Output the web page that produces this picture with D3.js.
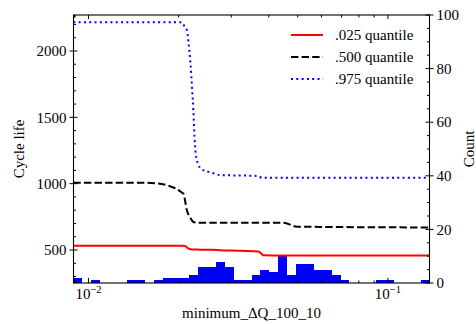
<!DOCTYPE html>
<html><head><meta charset="utf-8">
<script src="https://cdn.jsdelivr.net/npm/d3@7"></script>
<style>body{margin:0;background:#fff}svg{display:block}text{font-family:"Liberation Serif","Times New Roman",serif;fill:#000}</style>
</head><body><svg id="c" width="476" height="324"></svg>
<script>
// ---- data ----
const thresholds = [0.0089, 0.0150, 0.0170, 0.0188, 0.0195, 0.0205, 0.0208, 0.0210, 0.0213, 0.0216, 0.0219, 0.0222, 0.0224, 0.0226, 0.0228, 0.0233, 0.0239, 0.0258, 0.0275, 0.0369, 0.0379, 0.0383, 0.0447, 0.0497, 0.1377];
const q025 = [532, 532, 532, 532, 532, 532, 531, 530, 520, 510, 505, 504, 504, 504, 504, 503, 502, 501, 499, 488, 470, 461, 459, 459, 459];
const q500 = [1007, 1007, 1002, 979, 964, 933, 922, 877, 801, 764, 741, 721, 711, 709, 707, 706, 706, 706, 706, 706, 706, 706, 706, 676, 670];
const q975 = [2216, 2216, 2216, 2216, 2216, 2216, 2196, 2180, 2158, 2058, 1910, 1706, 1555, 1354, 1231, 1141, 1108, 1083, 1065, 1058, 1045, 1045, 1045, 1045, 1045];
const histRange = [0.008912, 0.1377];
const histCounts = [2,0,1,0,0,0,1,1,0,1,2,2,2,3,6,6,8,6,1,1,3,5,4,10,3,7,7,5,5,3,1,0,0,0,1,1,0,0,0,1];
const seriesNames = [".025 quantile", ".500 quantile", ".975 quantile"];
const xMajor = [0.01, 0.1];
const xMajorExp = ["\u22122", "\u22121"];
const yLeftMajor = [500, 1000, 1500, 2000];
const yRightMajor = [0, 20, 40, 60, 80, 100];

// ---- layout ----
const L = 73.5, R = 429.5, T = 15, B = 283;
const svg = d3.select("#c");
const x = d3.scaleLog().domain(histRange).range([L, R]);
const y = d3.scaleLinear().domain([251.3, 2271.3]).range([B, T]);
const yc = d3.scaleLinear().domain([0, 100]).range([B, T]);

// histogram bars (log-spaced bins across the range)
const nb = histCounts.length;
const lo = Math.log10(histRange[0]), hi = Math.log10(histRange[1]);
const bins = histCounts.map((c, i) => ({x0: Math.pow(10, lo + (hi - lo) * i / nb), x1: Math.pow(10, lo + (hi - lo) * (i + 1) / nb), c}));
svg.append("g").selectAll("rect").data(bins.filter(d => d.c > 0)).join("rect")
  .attr("x", d => x(d.x0)).attr("width", d => x(d.x1) - x(d.x0))
  .attr("y", d => yc(d.c)).attr("height", d => yc(0) - yc(d.c))
  .attr("fill", "#0000ff").attr("shape-rendering", "crispEdges");

// lines
const styles = [
  {vals: q025, color: "#ff0000", dash: null},
  {vals: q500, color: "#000000", dash: "7.4,3.2"},
  {vals: q975, color: "#0000ff", dash: "2,3.3"}
];
const line = d3.line().x(d => x(d[0])).y(d => y(d[1])).curve(d3.curveMonotoneX);
styles.forEach(s => {
  svg.append("path").datum(thresholds.map((t, i) => [t, s.vals[i]]))
    .attr("d", line).attr("fill", "none").attr("stroke", s.color).attr("stroke-width", 2)
    .attr("stroke-dasharray", s.dash);
});

// frame
const ax = svg.append("g").attr("stroke", "#000").attr("fill", "none");
ax.append("rect").attr("x", L).attr("y", T).attr("width", R - L).attr("height", B - T).attr("stroke-width", 1.1);

// x ticks (bottom and top, inward)
const xMinor = [];
[0.001, 0.01, 0.1].forEach(p => { for (let k = 2; k <= 9; k++) { const v = k * p; if (v >= histRange[0] && v <= histRange[1]) xMinor.push(v); } });
xMinor.push(0.009);
const tk = svg.append("g").attr("stroke", "#000").attr("stroke-width", 1);
xMajor.forEach(v => {
  tk.append("line").attr("x1", x(v)).attr("x2", x(v)).attr("y1", B).attr("y2", B - 5);
  tk.append("line").attr("x1", x(v)).attr("x2", x(v)).attr("y1", T).attr("y2", T + 4);
});
[...new Set(xMinor)].forEach(v => {
  tk.append("line").attr("x1", x(v)).attr("x2", x(v)).attr("y1", B).attr("y2", B - 2.5);
  tk.append("line").attr("x1", x(v)).attr("x2", x(v)).attr("y1", T).attr("y2", T + 2.5);
});
// left ticks
yLeftMajor.forEach(v => tk.append("line").attr("x1", L - 4).attr("x2", L + 4).attr("y1", y(v)).attr("y2", y(v)));
d3.range(300, 2300, 100).filter(v => v % 500 !== 0).forEach(v => tk.append("line").attr("x1", L).attr("x2", L + 2.5).attr("y1", y(v)).attr("y2", y(v)));
// right ticks
yRightMajor.forEach(v => tk.append("line").attr("x1", R - 4).attr("x2", R + 4).attr("y1", yc(v)).attr("y2", yc(v)));
d3.range(5, 100, 5).filter(v => v % 20 !== 0).forEach(v => tk.append("line").attr("x1", R - 2.5).attr("x2", R).attr("y1", yc(v)).attr("y2", yc(v)));

// tick labels
const fs = 15;
yLeftMajor.forEach(v => svg.append("text").attr("x", L - 7).attr("y", y(v)).attr("dy", "0.35em").attr("text-anchor", "end").attr("font-size", fs).text(v));
yRightMajor.forEach(v => svg.append("text").attr("x", R + 7).attr("y", yc(v)).attr("dy", "0.35em").attr("text-anchor", "start").attr("font-size", fs).text(v));
xMajor.forEach((v, i) => {
  const t = svg.append("text").attr("x", x(v)).attr("y", 299).attr("text-anchor", "middle").attr("font-size", fs);
  t.append("tspan").text("10");
  t.append("tspan").attr("font-size", 10.5).attr("dy", -6).text(xMajorExp[i]);
});

// axis labels
svg.append("text").attr("transform", `translate(${19},${(T + B) / 2}) rotate(-90)`).attr("text-anchor", "middle").attr("dy", "0.35em").attr("font-size", fs).text("Cycle life");
svg.append("text").attr("transform", `translate(${469},${(T + B) / 2}) rotate(-90)`).attr("text-anchor", "middle").attr("dy", "0.35em").attr("font-size", fs).text("Count");
svg.append("text").attr("x", (L + R) / 2).attr("y", 318).attr("text-anchor", "middle").attr("font-size", fs).text("minimum_\u0394Q_100_10");

// legend
const legY = [35, 57, 79];
styles.forEach((s, i) => {
  svg.append("line").attr("x1", 291).attr("x2", 323).attr("y1", legY[i]).attr("y2", legY[i])
    .attr("stroke", s.color).attr("stroke-width", 2).attr("stroke-dasharray", s.dash);
  svg.append("text").attr("x", 335).attr("y", legY[i]).attr("dy", "0.35em").attr("font-size", fs).text(seriesNames[i]);
});
</script></body></html>
